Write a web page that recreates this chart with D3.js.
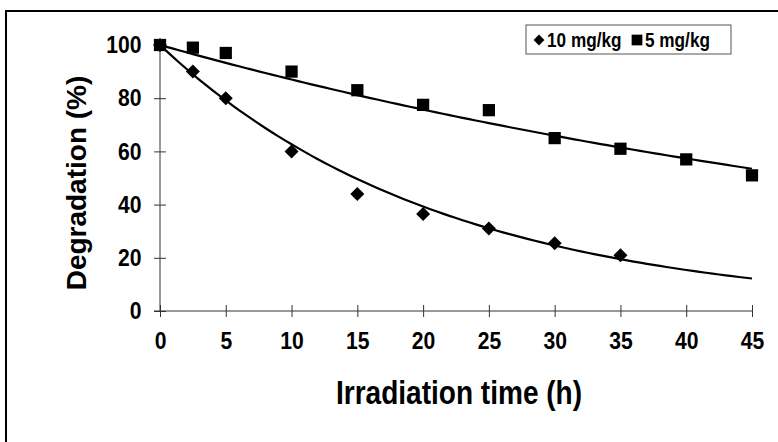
<!DOCTYPE html>
<html>
<head>
<meta charset="utf-8">
<script src="https://cdn.jsdelivr.net/npm/d3@7"></script>
<style>
body { margin: 0; background: #fff; }
text { font-family: "Liberation Sans", Arial, sans-serif; font-weight: bold; fill: #000; }
</style>
</head>
<body>
<script>
const width = 778, height = 442;

// data
const times10 = [0, 2.5, 5, 10, 15, 20, 25, 30, 35];
const deg10 = [100, 90, 80, 60, 44, 36.5, 31, 25.5, 21];
const times5 = [0, 2.5, 5, 10, 15, 20, 25, 30, 35, 40, 45];
const deg5 = [100, 99, 97, 90, 83, 77.5, 75.5, 65, 61, 57, 51];
const xTicks = [0, 5, 10, 15, 20, 25, 30, 35, 40, 45];
const yTicks = [0, 20, 40, 60, 80, 100];
const seriesNames = ["10 mg/kg", "5 mg/kg"];

const x = d3.scaleLinear().domain([0, 45]).range([160, 752]);
const y = d3.scaleLinear().domain([0, 100]).range([311, 45]);

const svg = d3.select('body').append('svg').attr('width', width).attr('height', height);

// outer frame (left and top edges only show)
svg.append('path').attr('d', 'M6,442V11H778').attr('fill', 'none').attr('stroke', '#000').attr('stroke-width', 2);

// narrow-looking text: squeeze horizontally
function narrowText(g, px, py, size, sx, str, anchor) {
  return g.append('text').attr('transform', `translate(${px},${py}) scale(${sx},1)`)
    .attr('text-anchor', anchor || 'start').attr('font-size', size).text(str);
}

// axes
const xAxis = svg.append('g').attr('transform', `translate(0,${y(0)})`)
  .call(d3.axisBottom(x).tickValues(xTicks).tickSize(0).tickPadding(21));
xAxis.select('.domain').remove();
xAxis.append('line').attr('x1', x(0) - 6).attr('x2', x(45)).attr('stroke', '#333');
xAxis.selectAll('.tick').append('line').attr('y1', -6).attr('y2', 6).attr('stroke', '#333');
xAxis.selectAll('.tick text').attr('font-size', 24).attr('dy', '0.71em').attr('transform', 'scale(0.88,1)');

const yAxis = svg.append('g').attr('transform', `translate(${x(0)},0)`)
  .call(d3.axisLeft(y).tickValues(yTicks).tickSize(0).tickPadding(21));
yAxis.select('.domain').remove();
yAxis.append('line').attr('y1', y(0)).attr('y2', y(100)).attr('stroke', '#333');
yAxis.selectAll('.tick').append('line').attr('x1', -6).attr('x2', 6).attr('stroke', '#333');
yAxis.selectAll('.tick text').attr('font-size', 24).attr('transform', 'scale(0.88,1)');

// exponential trendlines fitted through (0,100)
function expFit(xs, ys) {
  const num = d3.sum(xs, (v, i) => v * Math.log(ys[i] / 100));
  const den = d3.sum(xs, v => v * v);
  const k = num / den;
  return t => 100 * Math.exp(k * t);
}
const line = d3.line().x(d => x(d[0])).y(d => y(d[1]));
[[times10, deg10], [times5, deg5]].forEach(([xs, ys]) => {
  const f = expFit(xs, ys);
  const pts = d3.range(0, 45.01, 0.5).map(t => [t, f(t)]);
  svg.append('path').datum(pts).attr('d', line).attr('fill', 'none').attr('stroke', '#000').attr('stroke-width', 2.2);
});

// markers
const diamond = d3.symbol().type(d3.symbolDiamond2).size(125);
const square = d3.symbol().type(d3.symbolSquare).size(150);
svg.append('g').selectAll('path').data(times10).join('path')
  .attr('d', diamond).attr('transform', (d, i) => `translate(${x(d)},${y(deg10[i])})`);
svg.append('g').selectAll('path').data(times5).join('path')
  .attr('d', square).attr('transform', (d, i) => `translate(${x(d)},${y(deg5[i])})`);

// axis titles
narrowText(svg, 459, 404, 33, 0.85, 'Irradiation time (h)', 'middle');
svg.append('text').attr('transform', 'translate(86,183) rotate(-90)').attr('text-anchor', 'middle')
  .attr('font-size', 28).text('Degradation (%)');

// legend
const lg = svg.append('g');
lg.append('rect').attr('x', 526).attr('y', 25).attr('width', 205).attr('height', 29)
  .attr('fill', '#fff').attr('stroke', '#555').attr('stroke-width', 1);
lg.append('path').attr('d', d3.symbol().type(d3.symbolDiamond2).size(75)).attr('transform', 'translate(539,40)');
narrowText(lg, 547, 47, 20, 0.86, seriesNames[0]);
lg.append('path').attr('d', d3.symbol().type(d3.symbolSquare).size(115)).attr('transform', 'translate(637,40)');
narrowText(lg, 645, 47, 20, 0.86, seriesNames[1]);
</script>
</body>
</html>
